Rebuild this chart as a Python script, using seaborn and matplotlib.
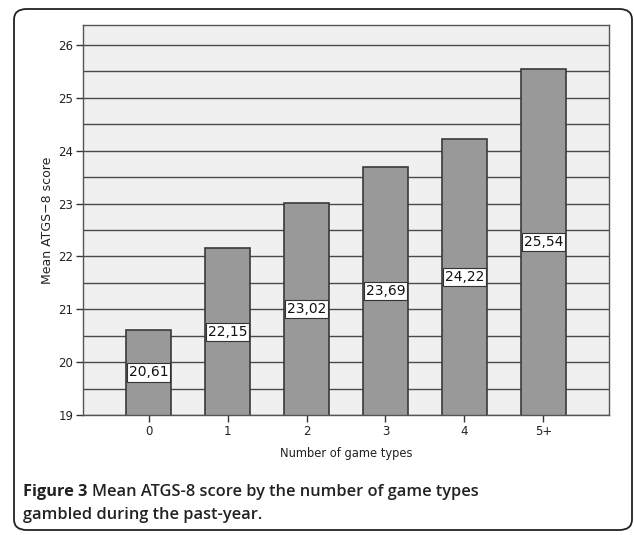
import matplotlib
matplotlib.use("Agg")
import matplotlib.pyplot as plt
import seaborn as sns
import pandas as pd
import numpy as np
from matplotlib.patches import FancyBboxPatch

categories = ["0", "1", "2", "3", "4", "5+"]
means = [20.61, 22.15, 23.02, 23.69, 24.22, 25.54]
value_labels = ["20,61", "22,15", "23,02", "23,69", "24,22", "25,54"]
yticks = [19, 20, 21, 22, 23, 24, 25, 26]

sns.set_style("white")
plt.rcParams['font.family'] = ['DejaVu Sans']

df = pd.DataFrame({"games": categories, "mean": means})

fig = plt.figure(figsize=(6.34, 5.35), dpi=100)
ax = fig.add_axes([83/634, 1-415/535, (609-83)/634, (415-25)/535])

ax.set_facecolor("#f0f0f0")
ax.set_axisbelow(True)
sns.barplot(data=df, x="games", y="mean", order=categories, color="#999999",
            edgecolor="#3a3a3a", linewidth=1.2, width=0.56, saturation=1,
            ax=ax, zorder=2)
for p in ax.patches:
    p.set_facecolor("#999999")

ax.set_xlim(-0.83, 5.83)
ax.set_ylim(19, 26.378)
ax.set_yticks(yticks)
ax.set_yticks(np.arange(19.5, 26.01, 1.0), minor=True)
ax.grid(True, which="both", axis="y", color="#4a4a4a", linewidth=1.0, zorder=0)
ax.grid(False, axis="x")

for i, v in enumerate(means):
    ax.text(i, (19 + v) / 2, value_labels[i], ha="center", va="center",
            fontsize=10, color="#111111", zorder=5,
            bbox=dict(boxstyle="square,pad=0.15", facecolor="white",
                      edgecolor="#333333", linewidth=0.8))

for s in ax.spines.values():
    s.set_visible(True)
    s.set_color("#555555")
    s.set_linewidth(1.0)

ax.tick_params(axis="both", which="major", direction="out", length=5,
               width=1, color="#333333", labelsize=8.5, labelcolor="#222222",
               left=True, bottom=True, pad=2)
ax.tick_params(axis="y", which="minor", length=0)
ax.set_xlabel("Number of game types", fontsize=8.3, color="#222222", labelpad=7)
ax.set_ylabel("Mean ATGS\u22128 score", fontsize=9, color="#222222", labelpad=3)

# outer rounded frame
frame = FancyBboxPatch((14/634, 5/535), (618/634), (521/535),
                       boxstyle="round,pad=0,rounding_size=0.02",
                       transform=fig.transFigure, facecolor="none",
                       edgecolor="#222222", linewidth=1.3, zorder=-1)
fig.patches.append(frame)

# caption
cap_font = ['Open Sans', 'DejaVu Sans']
fs = 11.8
t1 = fig.text(23/634, 1-492/535, "Figure 3", fontsize=fs, fontweight="bold",
              family=cap_font, color="#222222", va="center", ha="left")
fig.canvas.draw()
bb = t1.get_window_extent(renderer=fig.canvas.get_renderer())
x_after = bb.x1 / fig.bbox.width
fig.text(x_after + 5/634, 1-492/535, "Mean ATGS-8 score by the number of game types",
         fontsize=fs, fontweight="semibold", family=cap_font, color="#222222",
         va="center", ha="left")
fig.text(23/634, 1-515/535, "gambled during the past-year.", fontsize=fs,
         fontweight="semibold", family=cap_font, color="#222222",
         va="center", ha="left")

fig.savefig("out.png", dpi=100)
